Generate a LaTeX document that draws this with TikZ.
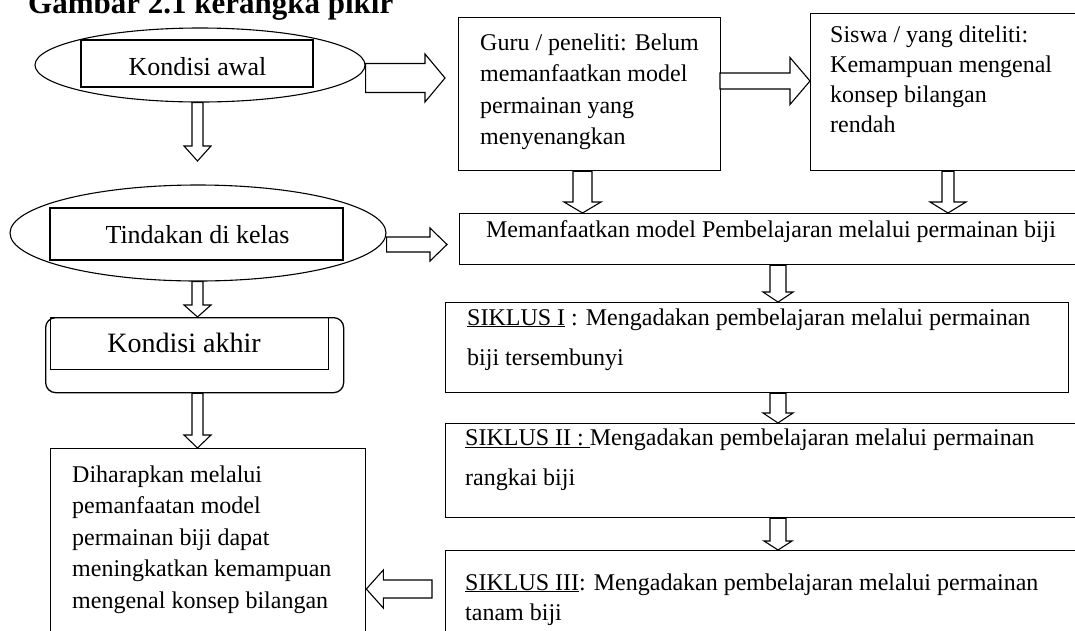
\documentclass[tikz,border=0pt]{standalone}
\usepackage{fontspec}
\setmainfont{Liberation Serif}
\usetikzlibrary{shapes.geometric,calc}

\tikzset{
  box/.style={draw, line width=1.3pt, inner sep=0pt, anchor=north west},
  oval/.style={draw, line width=1.1pt, ellipse, inner sep=0pt},
  txt/.style={inner sep=0pt, anchor=base west, align=left, font=\fontsize{24}{31.5}\selectfont},
  fat arrow/.style n args={3}{draw, line width=1.1pt, fill=white, line join=miter, to path={
    let \p1=($(\tikztotarget)!#3pt!(\tikztostart)$) in
    ($(\tikztostart)!#1pt!-90:(\tikztotarget)$) -- ($(\p1)!#1pt!-90:(\tikztotarget)$)
    -- ($(\p1)!#2pt!-90:(\tikztotarget)$) -- (\tikztotarget)
    -- ($(\p1)!#2pt!90:(\tikztotarget)$) -- ($(\p1)!#1pt!90:(\tikztotarget)$)
    -- ($(\tikztostart)!#1pt!90:(\tikztotarget)$) -- cycle}},
}

\begin{document}
\begin{tikzpicture}[x=1pt, y=-1pt]
	\clip (0,0) rectangle (1075,630);
	
	\node[anchor=base west, inner sep=0pt, font=\bfseries\fontsize{31}{36}\selectfont] (judul) at (28,13) {Gambar 2.1 kerangka pikir};
	
	% left column
	\node[oval, minimum width=330, minimum height=74] (awal) at (200,65) {};
	\node[box, anchor=center, minimum width=232, minimum height=47] (awalR) at (197,63.5) {};
	\node[txt, anchor=base, font=\fontsize{26}{30}\selectfont] (awalT) at (197.5,75) {Kondisi awal};
	
	\node[oval, minimum width=376, minimum height=96] (tindakan) at (198,233) {};
	\node[box, anchor=center, minimum width=293, minimum height=52] (tindakanR) at (196.5,234) {};
	\node[txt, anchor=base, font=\fontsize{26}{30}\selectfont] (tindakanT) at (197.5,243) {Tindakan di kelas};
	
	\node[box, rounded corners=10pt, minimum width=298, minimum height=75] (akhir) at (45,317) {};
	\node[box, minimum width=278, minimum height=52] (akhirR) at (50,317) {};
	\node[txt, anchor=base, font=\fontsize{28}{30}\selectfont] (akhirT) at (184,352) {Kondisi akhir};
	
	% multi-line texts: base = baseline of the last line
	\node[box, minimum width=315, minimum height=212] (harap) at (50,448) {};
	\node[txt] (harapT) at (72,608) {Diharapkan melalui\\pemanfaatan model\\permainan biji dapat\\meningkatkan kemampuan\\mengenal konsep bilangan};
	
	% right column
	\node[box, minimum width=262, minimum height=153] (guru) at (458,17) {};
	\node[txt] (guruT) at (480,144.5) {Guru / peneliti: Belum\\memanfaatkan model\\permainan yang\\menyenangkan};
	
	\node[box, minimum width=280, minimum height=157] (siswa) at (810,13) {};
	\node[txt, font=\fontsize{24}{30}\selectfont] (siswaT) at (830,132) {Siswa / yang diteliti:\\Kemampuan mengenal\\konsep bilangan\\rendah};
	
	\node[box, minimum width=626, minimum height=51] (manfaat) at (459,213) {};
	\node[txt, anchor=base] (manfaatT) at (771,237) {Memanfaatkan model Pembelajaran melalui permainan biji};
	
	\node[box, minimum width=623, minimum height=90] (siklus1) at (445,302) {};
	\node[txt, font=\fontsize{24}{40}\selectfont] (siklus1T) at (467,365) {\underline{SIKLUS I} : Mengadakan pembelajaran melalui permainan\\biji tersembunyi};
	
	\node[box, minimum width=645, minimum height=94] (siklus2) at (445,423) {};
	\node[txt, font=\fontsize{24}{40}\selectfont] (siklus2T) at (465,485) {\underline{SIKLUS II :\ }Mengadakan pembelajaran melalui permainan\\rangkai biji};
	
	\node[box, minimum width=645, minimum height=110] (siklus3) at (445,550) {};
	\node[txt, font=\fontsize{24}{30}\selectfont] (siklus3T) at (465,620) {\underline{SIKLUS III}: Mengadakan pembelajaran melalui permainan\\tanam biji};
	
	% block arrows
	\coordinate (tip1) at (197.5,161);
	\coordinate (a1) at (445,78);
	\coordinate (a2) at (447,244.5);
	\coordinate (a3) at (720,81);
	\coordinate (a4) at (432,589);
	\coordinate (d1) at (582.5,0);
	\coordinate (d2) at (948,0);
	\coordinate (d3) at (778,0);
	
	\draw[fat arrow={5.5}{13.5}{15}] (awal.south -| tip1) to (tip1);
	\draw[fat arrow={5.5}{13.5}{12}] (tindakan.south -| tip1) to (akhir.north -| tip1);
	\draw[fat arrow={5.5}{13.5}{13}] (akhir.south -| tip1) to (harap.north -| tip1);
	
	\draw[fat arrow={14.5}{24}{20}] (awal.east |- a1) to (a1);
	\draw[fat arrow={7.5}{16.5}{17}] (tindakan.east |- a2) to (a2);
	\draw[fat arrow={8}{23.5}{20}] (a3) to (siswa.west |- a3);
	
	\draw[fat arrow={9.5}{18.5}{11}] (guru.south -| d1) to (manfaat.north -| d1);
	\draw[fat arrow={6}{18}{11}] (siswa.south -| d2) to (manfaat.north -| d2);
	\draw[fat arrow={8}{15}{10}] (manfaat.south -| d3) to (siklus1.north -| d3);
	\draw[fat arrow={8}{15}{10}] (siklus1.south -| d3) to (siklus2.north -| d3);
	\draw[fat arrow={8}{14}{9}] (siklus2.south -| d3) to (siklus3.north -| d3);
	
	\draw[fat arrow={9}{19}{17}] (a4) to (harap.east |- a4);
\end{tikzpicture}
\end{document}
